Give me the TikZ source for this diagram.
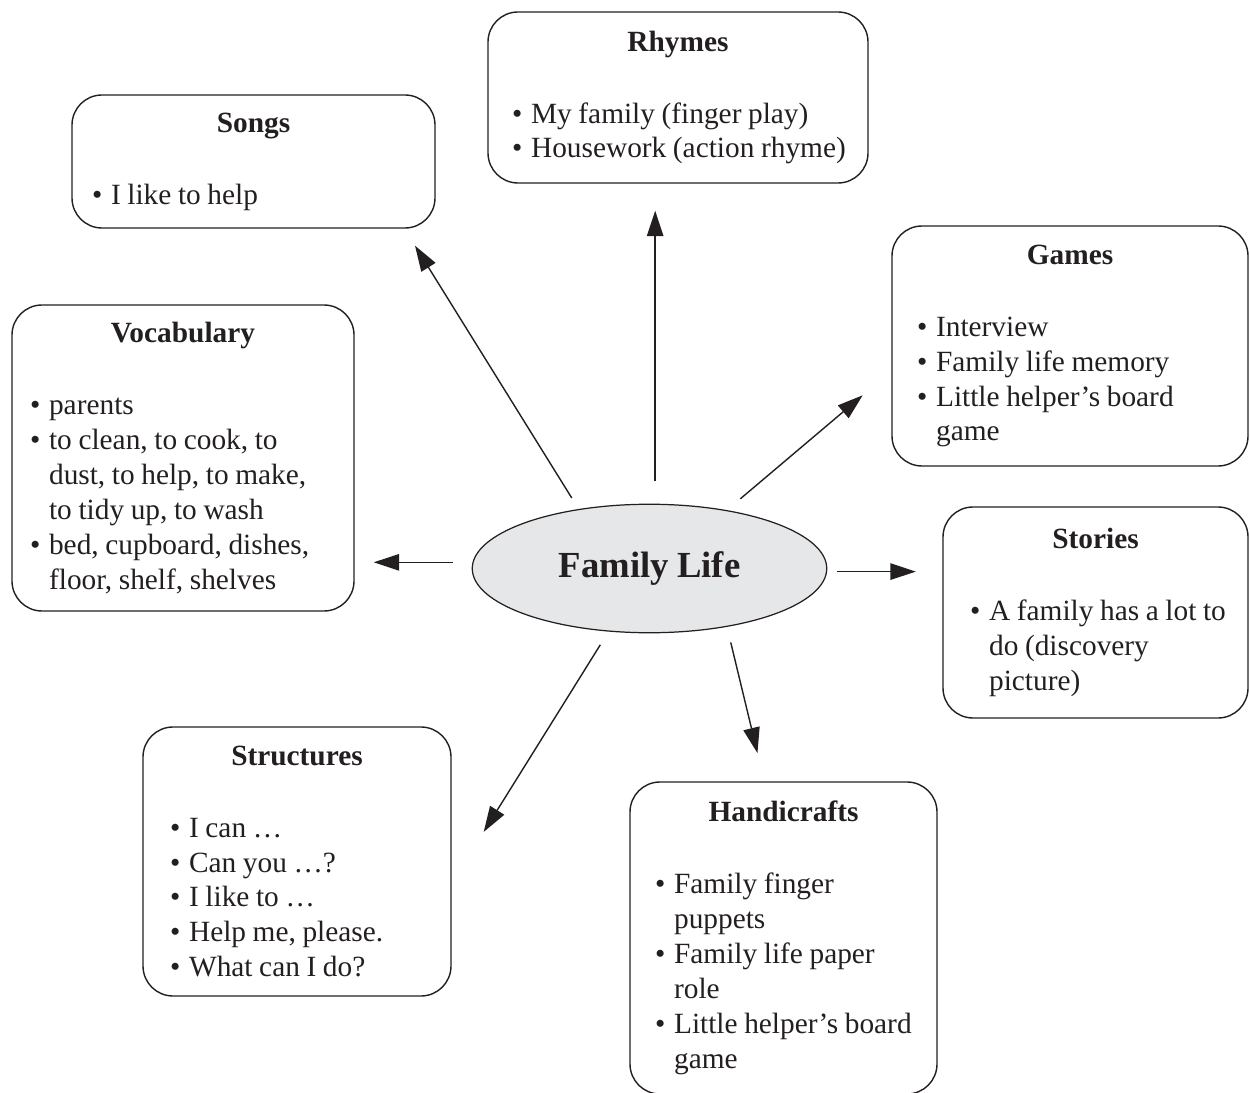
\documentclass[tikz,border=0pt]{standalone}
\usepackage{fontspec}
\setmainfont{Liberation Serif}[WordSpace=0.9]
\usetikzlibrary{arrows.meta,shapes.geometric}
\definecolor{ink}{RGB}{35,31,32}
\definecolor{fog}{RGB}{230,231,233}
\newlength\bulw
\newlength\bulshift
\newcommand{\topichead}[1]{{\centering\bfseries #1\par}\vspace{0.74cm}}
\newcommand{\bul}{\textbullet\hspace{0.3em}}
\newcommand{\itm}[1]{\par\settowidth\bulw{\bul}%
  \leftskip=\bulshift\relax\rightskip=-2cm plus 1fil\relax
  \hangindent=\bulw\hangafter=1\noindent\bul #1\par}
\tikzset{
  >={Triangle[length=5.1mm,width=3.3mm]},
  topic/.style={draw=ink,line width=0.8pt,rounded corners=6mm,align=flush left,
    inner xsep=1.5mm,inner ysep=0pt,text=ink,
    font=\fontsize{16.7}{19.9}\selectfont,
    execute at begin node={\setlength\bulshift{#1}}},
  topic/.default=3mm,
  hub/.style={ellipse,draw=ink,line width=0.7pt,fill=fog,inner sep=0pt,
    minimum width=7.09cm,minimum height=2.57cm,text=ink,
    font=\fontsize{20.9}{25}\selectfont\bfseries},
  link/.style={->,draw=ink,line width=0.8pt},
}
\begin{document}
\begin{tikzpicture}
  \useasboundingbox (0,0) rectangle (25,21.84);
  \node[hub] (fl) at (12.99,10.47) {Family Life};

  \node[topic=0.25cm,minimum width=7.26cm,minimum height=2.66cm,text width=6.96cm]
    (songs) at (5.07,18.61) {\topichead{Songs}\itm{I like to help}};
  \node[topic=0.33cm,minimum width=7.6cm,minimum height=3.42cm,text width=7.3cm]
    (rhymes) at (13.56,19.89) {\topichead{Rhymes}\itm{My family (finger play)}\itm{Housework (action rhyme)}};
  \node[topic=0.35cm,minimum width=7.12cm,minimum height=4.8cm,text width=6.82cm]
    (games) at (21.4,14.92) {\topichead{Games}\itm{Interview}\itm{Family life memory}%
      \itm{Little helper’s board\newline game}};
  \node[topic=0.21cm,minimum width=6.84cm,minimum height=6.12cm,text width=6.54cm]
    (vocab) at (3.66,12.68) {\topichead{Vocabulary}\itm{parents}%
      \itm{to clean, to cook, to\newline dust, to help, to make,\newline to tidy up, to wash}%
      \itm{bed, cupboard, dishes,\newline floor, shelf, shelves}};
  \node[topic=0.39cm,minimum width=6.1cm,minimum height=4.22cm,text width=5.8cm]
    (stories) at (21.91,9.59) {\topichead{Stories}%
      \itm{A family has a lot to\newline do (discovery\newline picture)}};
  \node[topic=0.39cm,minimum width=6.16cm,minimum height=5.38cm,text width=5.86cm]
    (structs) at (5.94,4.61) {\topichead{Structures}\itm{I can …}\itm{Can you …?}%
      \itm{I like to …}\itm{Help me, please.}\itm{What can I do?}};
  \node[topic=0.35cm,minimum width=6.14cm,minimum height=6.24cm,text width=5.84cm]
    (crafts) at (15.67,3.08) {\topichead{Handicrafts}\itm{Family finger\newline puppets}%
      \itm{Family life paper\newline role}\itm{Little helper’s board\newline game}};

  % spokes
  \draw[link,shorten <=2.6mm,shorten >=4mm] (fl.140) -- (songs.-24);
  \draw[link,shorten <=4.6mm,shorten >=5.4mm] (fl.85) -- (fl.85 |- rhymes.south);
  \draw[link,shorten <=3.5mm,shorten >=7.5mm] (fl.37) -- (games.188);
  \draw[link,shorten <=3.9mm,shorten >=3.8mm] (fl.178) -- (fl.178 -| vocab.east);
  \draw[link,shorten <=1.9mm,shorten >=5.3mm] (fl.-1) -- (fl.-1 -| stories.west);
  \draw[link,shorten <=3.1mm,shorten >=12.1mm] (fl.237) -- (structs.-8);
  \draw[link,shorten <=3.2mm,shorten >=5.8mm] (fl.-37) -- (crafts.97);
\end{tikzpicture}
\end{document}
